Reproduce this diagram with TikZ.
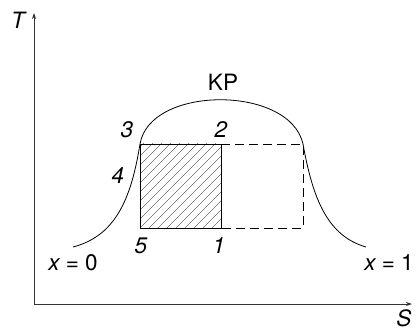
\documentclass[tikz,border=0pt]{standalone}
\usepackage{fontspec}
\setmainfont{TeX Gyre Heros}
\usetikzlibrary{arrows.meta}
\begin{document}
\begin{tikzpicture}[x=1pt,y=-1pt,
  lbl/.style={inner sep=0pt,font=\fontsize{22.5}{26}\selectfont},
  axis/.style={line width=0.9pt,draw=black!80,-{Stealth[length=6pt,width=4pt]}},
  curve/.style={line width=0.8pt},
  dash line/.style={line width=0.8pt,dash pattern=on 9pt off 5pt}]
\useasboundingbox (0,0) rectangle (418,331);
% axes
\coordinate (O) at (34,304);
\coordinate (Ttip) at (34,13);
\coordinate (Stip) at (412,304);
\draw[axis] (O) -- (Ttip);
\draw[axis] (O) -- (Stip);
\node[lbl] (T) at (18,20) {\itshape T};
\node[lbl] (S) at (404,318) {\itshape S};
% cycle points
\coordinate (p3) at (140,144);
\coordinate (p2) at (221,144);
\coordinate (p5) at (140,228);
\coordinate (p1) at (221,228);
\coordinate (q2) at (303,144);
\coordinate (q1) at (303,228);
\coordinate (L0) at (73,247);
\coordinate (R1) at (366,247);
% hatching
\begin{scope}
\clip (p5) rectangle (p2);
\foreach \i in {0,9,...,198}
  \draw[line width=0.35pt] (140-90+\i,228) -- ++(100,-100);
\end{scope}
% saturation curve
\draw[curve] (L0) .. controls (115,236) and (131,200) .. (p3)
  .. controls (150,85) and (290,85) .. (q2)
  .. controls (313,200) and (328,236) .. (R1);
% rectangle
\draw[curve] (p5) rectangle (p2);
\draw[dash line] (p2) -- (q2) -- (q1) -- (p1);
% labels
\node[lbl] (KP) at (223,82) {KP};
\node[lbl] (l3) at (127,130) {\itshape 3};
\node[lbl] (l2) at (221,130) {\itshape 2};
\node[lbl] (l4) at (118,176) {\itshape 4};
\node[lbl] (l5) at (141,246) {\itshape 5};
\node[lbl] (l1) at (219,246) {\itshape 1};
\node[lbl] (x0) at (73,263) {\itshape x\upshape\ = 0};
\node[lbl] (x1) at (389,263) {\itshape x\upshape\ = 1};
\end{tikzpicture}
\end{document}
